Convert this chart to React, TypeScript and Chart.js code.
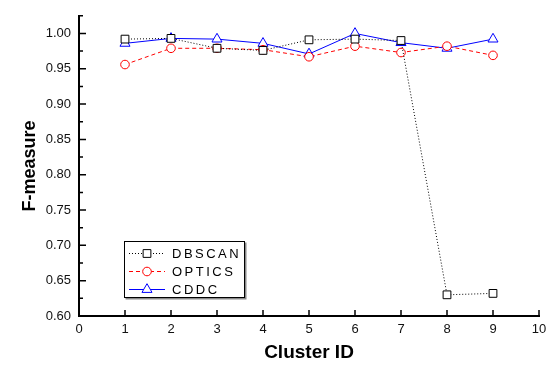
import React, { useEffect, useRef } from "react";
import { Chart, registerables } from "chart.js";

Chart.register(...registerables);

const clusterIds = [1, 2, 3, 4, 5, 6, 7, 8, 9];
const dbscan = [0.992, 0.993, 0.979, 0.976, 0.991, 0.992, 0.99, 0.63, 0.632];
const optics = [0.956, 0.979, 0.979, 0.977, 0.967, 0.982, 0.973, 0.982, 0.969];
const cddc = [0.986, 0.993, 0.992, 0.986, 0.971, 1.0, 0.987, 0.979, 0.992];
const seriesNames = ["DBSCAN", "OPTICS", "CDDC"];

const FONT = "'Liberation Sans', Arial, sans-serif";

const inwardTicks = {
  id: "inwardTicks",
  afterDraw(chart: any) {
    const { ctx } = chart;
    const xs = chart.scales.x;
    const ys = chart.scales.y;
    ctx.save();
    ctx.strokeStyle = "#000";
    ctx.lineWidth = 1.5;
    ctx.beginPath();
    ys.ticks.forEach((t: any) => {
      const py = ys.getPixelForValue(t.value);
      const major = Math.round(t.value * 1000) % 50 === 0;
      const len = major ? 7 : 4;
      ctx.moveTo(ys.right, py);
      ctx.lineTo(ys.right + len, py);
    });
    xs.ticks.forEach((t: any) => {
      const px = xs.getPixelForValue(t.value);
      ctx.moveTo(px, xs.top);
      ctx.lineTo(px, xs.top - 6);
    });
    ctx.stroke();
    ctx.restore();
  },
};

const boxLegend = {
  id: "boxLegend",
  afterDraw(chart: any) {
    const { ctx, chartArea } = chart;
    const left = chartArea.left + 45;
    const right = left + 121;
    const bottom = chartArea.bottom - 18;
    const top = bottom - 57;
    ctx.save();
    ctx.fillStyle = "#888";
    ctx.fillRect(left + 1.5, top + 1.5, right - left, bottom - top);
    ctx.fillStyle = "#fff";
    ctx.fillRect(left, top, right - left, bottom - top);
    ctx.strokeStyle = "#000";
    ctx.lineWidth = 1;
    ctx.strokeRect(left + 0.5, top + 0.5, right - left - 1, bottom - top - 1);
    chart.data.datasets.forEach((ds: any, i: number) => {
      const y = top + 12.5 + i * 18;
      const x0 = left + 5;
      const x1 = left + 41;
      const cx = left + 23;
      ctx.save();
      ctx.strokeStyle = ds.borderColor;
      ctx.lineWidth = 1;
      ctx.setLineDash(ds.borderDash || []);
      ctx.beginPath();
      ctx.moveTo(x0, y);
      ctx.lineTo(x1, y);
      ctx.stroke();
      ctx.setLineDash([]);
      ctx.fillStyle = "#fff";
      ctx.strokeStyle = ds.borderColor;
      (Chart as any).helpers?.drawPoint;
      drawMarker(ctx, ds.pointStyle, cx, y, ds.pointRadius);
      ctx.restore();
      ctx.save();
      ctx.fillStyle = "#000";
      ctx.font = `13px ${FONT}`;
      try {
        (ctx as any).letterSpacing = "2.5px";
      } catch (e) {}
      ctx.textBaseline = "middle";
      ctx.textAlign = "left";
      ctx.fillText(ds.label, left + 48, y + 0.5);
      ctx.restore();
    });
    ctx.restore();
  },
};

function drawMarker(ctx: CanvasRenderingContext2D, style: string, x: number, y: number, r: number) {
  ctx.beginPath();
  if (style === "rect") {
    const s = Math.SQRT1_2 * r;
    ctx.rect(x - s, y - s, 2 * s, 2 * s);
  } else if (style === "circle") {
    ctx.arc(x, y, r, 0, Math.PI * 2);
  } else {
    ctx.moveTo(x, y - r);
    ctx.lineTo(x + Math.sin(Math.PI * 2 / 3) * r, y - Math.cos(Math.PI * 2 / 3) * r);
    ctx.lineTo(x + Math.sin(Math.PI * 4 / 3) * r, y - Math.cos(Math.PI * 4 / 3) * r);
    ctx.closePath();
  }
  ctx.fill();
  ctx.stroke();
}

export default function App() {
  const ref = useRef<HTMLCanvasElement>(null);
  useEffect(() => {
    if (!ref.current) return;
    const mk = (vals: number[]) => clusterIds.map((x, i) => ({ x, y: vals[i] }));
    const chart = new Chart(ref.current, {
      type: "line",
      data: {
        datasets: [
          {
            label: seriesNames[0],
            data: mk(dbscan),
            borderColor: "#000",
            borderWidth: 1,
            borderDash: [1, 2],
            pointStyle: "rect",
            pointRadius: 5.5,
            pointBorderWidth: 1,
            pointBackgroundColor: "#fff",
            pointBorderColor: "#000",
            tension: 0,
          },
          {
            label: seriesNames[1],
            data: mk(optics),
            borderColor: "#ff0000",
            borderWidth: 1,
            borderDash: [4, 3],
            pointStyle: "circle",
            pointRadius: 4.3,
            pointBorderWidth: 1,
            pointBackgroundColor: "#fff",
            pointBorderColor: "#ff0000",
            tension: 0,
          },
          {
            label: seriesNames[2],
            data: mk(cddc),
            borderColor: "#0000ff",
            borderWidth: 1,
            pointStyle: "triangle",
            pointRadius: 5.8,
            pointBorderWidth: 1,
            pointBackgroundColor: "#fff",
            pointBorderColor: "#0000ff",
            tension: 0,
          },
        ] as any,
      },
      options: {
        animation: false,
        responsive: false,
        devicePixelRatio: 1,
        layout: { padding: { top: 8, right: 17, left: 0, bottom: 0 } },
        plugins: { legend: { display: false }, tooltip: { enabled: false } },
        scales: {
          x: {
            type: "linear",
            min: 0,
            max: 10,
            grid: { display: false, drawTicks: false },
            border: { display: true, color: "#000", width: 2 },
            ticks: {
              stepSize: 1,
              padding: 6,
              color: "#111",
              font: { family: FONT, size: 13 },
              maxRotation: 0,
            },
            title: {
              display: true,
              text: "Cluster ID",
              color: "#000",
              font: { family: FONT, size: 19, weight: "bold" },
              padding: { top: 0, bottom: 3 },
            },
            afterFit: (s: any) => {
              s.height = 51;
            },
          },
          y: {
            type: "linear",
            min: 0.6,
            max: 1.025,
            grid: { display: false, drawTicks: false },
            border: { display: true, color: "#000", width: 2 },
            ticks: {
              stepSize: 0.025,
              autoSkip: false,
              padding: 8,
              color: "#111",
              font: { family: FONT, size: 13 },
              callback: (v: any) =>
                Math.round(Number(v) * 1000) % 50 === 0 ? Number(v).toFixed(2) : "",
            },
            title: {
              display: true,
              text: "F-measure",
              color: "#000",
              font: { family: FONT, size: 18, weight: "bold" },
              padding: { top: 19, bottom: 0 },
            },
            afterFit: (s: any) => {
              s.width = 79;
            },
          },
        },
      } as any,
      plugins: [inwardTicks, boxLegend],
    });
    return () => chart.destroy();
  }, []);
  return (
    <div style={{ position: "fixed", left: 0, top: 0, width: 556, height: 367, background: "#fff" }}>
      <canvas ref={ref} width={556} height={367} style={{ display: "block" }} />
    </div>
  );
}
